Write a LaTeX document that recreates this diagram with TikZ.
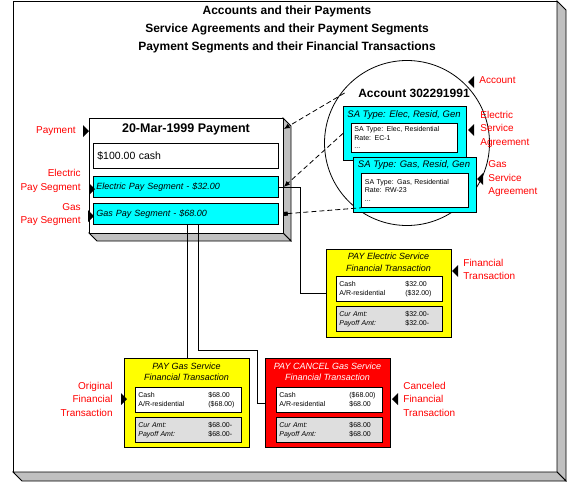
\documentclass[tikz,border=0pt]{standalone}
\usepackage{fontspec}
\setmainfont{Liberation Sans}
\usetikzlibrary{arrows.meta}
\definecolor{shade}{RGB}{192,192,192}
\definecolor{lgray}{RGB}{222,222,222}
\definecolor{lred}{RGB}{255,0,0}
\definecolor{segcyan}{RGB}{0,255,255}
\definecolor{ftyellow}{RGB}{255,255,0}
\definecolor{ftred}{RGB}{255,0,0}
\newcommand\fsz[2]{\fontsize{#1}{#2}\selectfont}
\newcommand\ftrow[3]{\makebox[#1pt][l]{#2}#3}
\newcommand\ptrL[2]{\fill (#1,#2) -- ++(6,-6) -- ++(0,12) -- cycle;}
\newcommand\ptrR[2]{\fill (#1,#2) -- ++(-6,-6) -- ++(0,12) -- cycle;}
\begin{document}
\begin{tikzpicture}[x=1pt,y=-1pt, line width=0.8pt,
  box/.style={draw, anchor=north west, inner sep=0pt},
  lbl/.style={text=lred, font=\fsz{10}{13.5}, inner sep=0pt},
  seg/.style={box, fill=segcyan, minimum width=185, minimum height=21, text width=179pt, inner xsep=3pt, align=left, font=\itshape\fsz{9}{11}},
  sainner/.style={box, fill=white, text width=100pt, inner xsep=3pt, inner ysep=2pt, align=left, font=\fsz{7}{8.5}},
  ftbox/.style={box, minimum width=125, minimum height=89},
  ftrows/.style={box, minimum width=106, minimum height=25, text width=100pt, inner xsep=3pt, align=left, font=\fsz{7}{9}},
  fttitle/.style={font=\itshape\fsz{9}{11.5}, align=center},
  dline/.style={dash pattern=on 5pt off 3pt}
]
\useasboundingbox (0,0) rectangle (580,482);
% outer frame
\draw[fill=white] (13,1) rectangle (557,472);
\draw[fill=shade] (557,1) -- (566,10) -- (566,481) -- (557,472) -- cycle;
\draw[fill=shade] (13,472) -- (22,481) -- (566,481) -- (557,472) -- cycle;
\node[font=\bfseries\fsz{12}{18}, align=center] (title) at (287,29)
  {Accounts and their Payments\\Service Agreements and their Payment Segments\\Payment Segments and their Financial Transactions};
% payment
\draw[fill=shade] (283,118) -- (291,126) -- (291,241) -- (283,233) -- cycle;
\draw[fill=shade] (89,233) -- (97,241) -- (291,241) -- (283,233) -- cycle;
\node[box, fill=white, minimum width=194, minimum height=115] (pay) at (89,118) {};
\node[font=\bfseries\fsz{12.5}{15}] (paytitle) at (186,129) {20-Mar-1999 Payment};
\node[box, fill=white, minimum width=185, minimum height=25, text width=177pt, inner xsep=4pt, align=left, font=\fsz{10.5}{12}] (cash) at (93,143) {\$100.00 cash};
\node[seg] (eseg) at (93,176) {Electric Pay Segment - \$32.00};
\node[seg] (gseg) at (93,203) {Gas Pay Segment - \$68.00};
% account
\node[circle, draw, fill=white, minimum size=165, inner sep=0pt] (acct) at (407,143) {};
\node[font=\bfseries\fsz{12}{14}] (accttitle) at (414,93) {Account 302291991};
\node[box, fill=segcyan, minimum width=123, minimum height=54] (esa) at (343,106) {};
\node[font=\itshape\fsz{9.5}{11}] (esahead) at (404,115) {SA Type: Elec, Resid, Gen};
\node[sainner, minimum width=106, minimum height=29] (esai) at (351,123) {SA Type: Elec, Residential\\Rate: EC-1\\...};
\node[box, fill=segcyan, minimum width=123, minimum height=55] (gsa) at (353,157) {};
\node[font=\itshape\fsz{9.5}{11}] (gsahead) at (414,165) {SA Type: Gas, Resid, Gen};
\node[sainner, minimum width=107, minimum height=34] (gsai) at (361,173) {SA Type: Gas, Residential\\Rate: RW-23\\...};
% electric FT
\node[ftbox, fill=ftyellow, minimum height=88] (eft) at (326,249) {};
\node[fttitle] (efttitle) at (388.5,262.5) {PAY Electric Service\\Financial Transaction};
\node[ftrows, fill=white] (efta) at (336,276) {\ftrow{66}{Cash}{\$32.00}\\\ftrow{66}{A/R-residential}{(\$32.00)}};
\node[ftrows, fill=lgray] (eftb) at (336,306) {\ftrow{66}{\itshape Cur Amt:}{\$32.00-}\\\ftrow{66}{\itshape Payoff Amt:}{\$32.00-}};
% gas FT
\node[ftbox, fill=ftyellow] (gft) at (124,358) {};
\node[fttitle] (gfttitle) at (186.5,372) {PAY Gas Service\\Financial Transaction};
\node[ftrows, fill=white] (gfta) at (135,387) {\ftrow{70}{Cash}{\$68.00}\\\ftrow{70}{A/R-residential}{(\$68.00)}};
\node[ftrows, fill=lgray] (gftb) at (135,417) {\ftrow{70}{\itshape Cur Amt:}{\$68.00-}\\\ftrow{70}{\itshape Payoff Amt:}{\$68.00-}};
% cancel FT
\node[ftbox, fill=ftred] (cft) at (265,358) {};
\node[fttitle, text=white] (cfttitle) at (327.5,372) {PAY CANCEL Gas Service\\Financial Transaction};
\node[ftrows, fill=white] (cfta) at (276,387) {\ftrow{70}{Cash}{(\$68.00)}\\\ftrow{70}{A/R-residential}{\$68.00}};
\node[ftrows, fill=lgray] (cftb) at (276,417) {\ftrow{70}{\itshape Cur Amt:}{\$68.00}\\\ftrow{70}{\itshape Payoff Amt:}{\$68.00}};
% solid connectors
\draw (eseg.east) -- ++(22,0) |- (eft.west);
\draw (gft.north) -- (gft.north |- gseg.south);
\coordinate (g2) at ([xshift=11pt]gft.north);
\draw (g2 |- gseg.south) -- (g2 |- 0,350) -| ([xshift=-8pt]cft.west) -- (cft.west);
% dashed connectors
\draw[dline, -{Latex[length=6pt,width=5pt]}] ([xshift=-10pt]accttitle.west) -- (pay.north east |- paytitle);
\draw[dline, -{Latex[length=6pt,width=5pt]}] (esa.west) -- (pay.east |- eseg.east);
\draw[dline, {Square[length=4pt,width=4pt]}-] (pay.east |- gseg.east) -- (gsai.south west);
% labels
\node[lbl, anchor=east] (lpay) at (76,131) {Payment};
\node[lbl, anchor=east, align=right] (lesg) at (81,181) {Electric\\Pay Segment};
\node[lbl, anchor=east, align=right] (lgsg) at (81,214.5) {Gas\\Pay Segment};
\node[lbl, anchor=west] (lacct) at (479,80) {Account};
\node[lbl, anchor=west, align=left] (lesa) at (480,129) {Electric\\Service\\Agreement};
\node[lbl, anchor=west, align=left] (lgsa) at (488,179) {Gas\\Service\\Agreement};
\node[lbl, anchor=west, align=left] (lft) at (463,269.5) {Financial\\Transaction};
\node[lbl, anchor=west, align=left] (lcft) at (403,399) {Canceled\\Financial\\Transaction};
\node[lbl, anchor=east, align=right] (loft) at (113,399) {Original\\Financial\\Transaction};
\ptrR{89}{131}
\ptrR{95}{189}
\ptrR{94}{216}
\ptrL{468}{82}
\ptrL{468}{130}
\ptrL{477}{179}
\ptrL{452}{271}
\ptrL{392}{399}
\ptrR{127}{399}
\end{tikzpicture}
\end{document}
